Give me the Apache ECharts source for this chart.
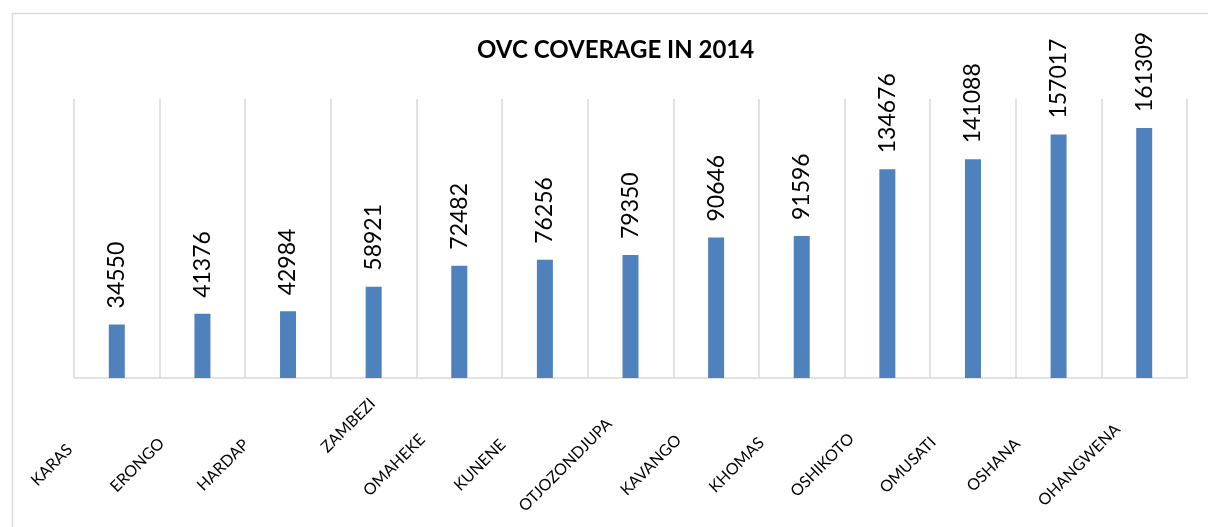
<!DOCTYPE html>
<html>
<head>
<meta charset="utf-8">
<script src="https://cdn.jsdelivr.net/npm/echarts@6/dist/echarts.min.js"></script>
<style>
  html, body { margin: 0; padding: 0; background: #fff; }
  #chart { width: 1208px; height: 527px; }
</style>
</head>
<body>
<div id="chart"></div>
<script>
// OVC coverage per region, 2014
const regions = ['KARAS', 'ERONGO', 'HARDAP', 'ZAMBEZI', 'OMAHEKE', 'KUNENE', 'OTJOZONDJUPA',
                 'KAVANGO', 'KHOMAS', 'OSHIKOTO', 'OMUSATI', 'OSHANA', 'OHANGWENA'];
const coverage = [34550, 41376, 42984, 58921, 72482, 76256, 79350,
                  90646, 91596, 134676, 141088, 157017, 161309];
const titleText = 'OVC COVERAGE IN 2014';

const FONT = 'Lato, "Open Sans", sans-serif';
const LABEL_PAD = 184;      // shifts the centred, rotated region names down-left
const RAISED_LABEL = 'ZAMBEZI';
const RAISED_PAD = 112;     // this name sits further up the slant

const chart = echarts.init(document.getElementById('chart'), null, { renderer: 'canvas' });

chart.setOption({
  backgroundColor: '#ffffff',
  animation: false,
  title: {
    text: titleText,
    left: 477,
    top: 38,
    padding: 0,
    textStyle: { fontFamily: FONT, fontWeight: 'bold', fontSize: 24, color: '#000' }
  },
  graphic: [{
    type: 'rect',
    left: 10, top: 11,
    shape: { width: 1400, height: 700 },
    style: { fill: 'none', stroke: '#d9d9d9', lineWidth: 1.5 },
    silent: true, z: -10
  }],
  grid: { left: 74, right: 21, top: 99, bottom: 149 },
  xAxis: {
    type: 'category',
    data: regions,
    boundaryGap: true,
    axisLine: { show: true, lineStyle: { color: '#d9d9d9', width: 1.5 } },
    axisTick: { show: false },
    splitLine: { show: true, lineStyle: { color: '#d9d9d9', width: 1.5 } },
    axisLabel: {
      interval: 0,
      rotate: 45,
      margin: 22,
      align: 'center',
      verticalAlign: 'middle',
      padding: [0, LABEL_PAD, 0, 0],
      fontFamily: FONT,
      fontSize: 16,
      color: '#000',
      formatter: name => name === RAISED_LABEL ? '{r|' + name + '}' : name,
      rich: {
        r: { padding: [0, 0, 0, RAISED_PAD], fontFamily: FONT, fontSize: 16, color: '#000' }
      }
    }
  },
  yAxis: {
    type: 'value',
    min: 0,
    max: 180000,
    interval: 20000,
    show: false,
    splitLine: { show: false }
  },
  series: [{
    type: 'bar',
    data: coverage,
    barWidth: 16,
    itemStyle: { color: '#4f81bd' },
    label: {
      show: true,
      position: 'top',
      distance: 16,
      rotate: 90,
      align: 'left',
      verticalAlign: 'middle',
      fontFamily: FONT,
      fontSize: 23,
      color: '#000'
    }
  }]
});
</script>
</body>
</html>
